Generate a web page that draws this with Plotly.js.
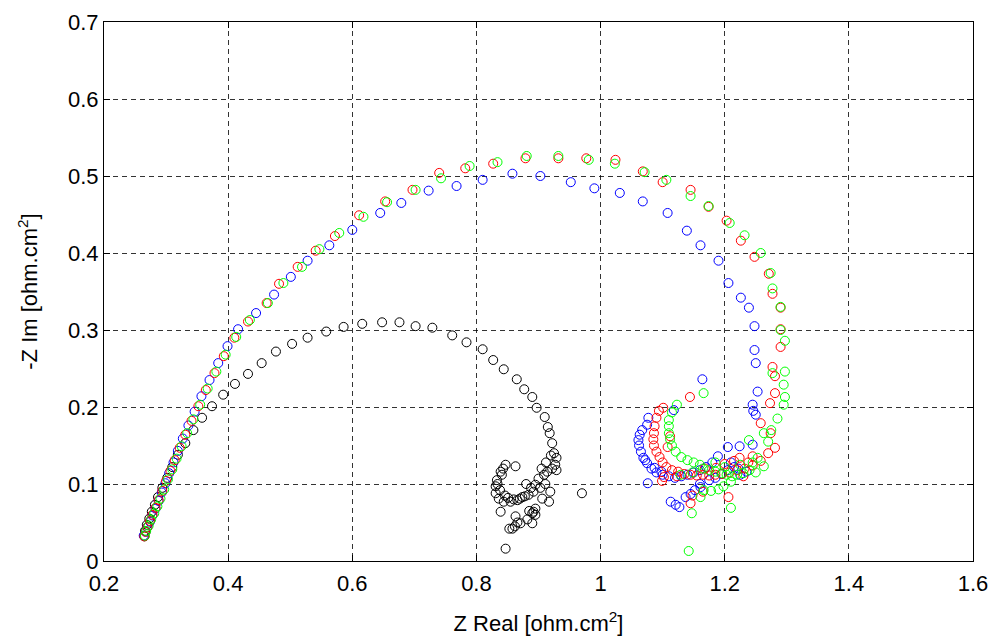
<!DOCTYPE html>
<html>
<head>
<meta charset="utf-8">
<script src="https://cdn.plot.ly/plotly-3.0.1.min.js"></script>
<style>html,body{margin:0;padding:0;background:#fff;}#chart{width:993px;height:644px;}</style>
</head>
<body>
<div id="chart"></div>
<script>
const xTickVals = [0.2, 0.4, 0.6, 0.8, 1.0, 1.2, 1.4, 1.6];
const xTickText = ["0.2", "0.4", "0.6", "0.8", "1", "1.2", "1.4", "1.6"];
const yTickVals = [0, 0.1, 0.2, 0.3, 0.4, 0.5, 0.6, 0.7];
const yTickText = ["0", "0.1", "0.2", "0.3", "0.4", "0.5", "0.6", "0.7"];

const blackX = [0.265,0.266,0.269,0.273,0.277,0.282,0.287,0.294,0.302,0.310,0.319,0.331,0.344,0.358,0.374,0.392,0.411,0.432,
  0.454,0.477,0.503,0.528,0.558,0.586,0.616,0.648,0.676,0.702,0.729,0.761,0.784,0.810,0.827,0.844,0.865,0.877,0.890,0.897,0.910,0.915,0.918,0.922,0.925,0.929,0.927,0.929,
  0.922,0.914,0.909,0.900,0.895,0.892,0.884,0.874,0.866,0.855,0.844,0.836,0.831,0.831,0.833,0.841,0.839,
  0.834,0.838,0.846,0.851,0.860,0.870,0.878,0.843,0.847,0.880,0.888,0.903,0.911,0.905,0.912,0.920,
  0.839,0.863,0.858,0.871,0.882,0.890,0.892,0.895,0.906,0.917,0.919,0.847,0.970,0.863,
  0.895,0.890,0.885,0.862,0.866,0.853];
const blackY = [0.032,0.039,0.047,0.055,0.064,0.073,0.083,0.095,0.108,0.122,0.138,0.153,0.170,0.186,0.201,0.216,0.230,0.243,
  0.257,0.272,0.282,0.290,0.298,0.304,0.308,0.310,0.310,0.305,0.303,0.293,0.284,0.275,0.261,0.249,0.236,0.223,0.213,0.199,0.187,0.174,0.166,0.153,0.140,0.134,0.125,0.118,
  0.120,0.116,0.112,0.107,0.099,0.090,0.086,0.083,0.079,0.077,0.077,0.081,0.088,0.097,0.105,0.112,0.116,
  0.100,0.092,0.085,0.082,0.080,0.081,0.084,0.120,0.125,0.100,0.095,0.095,0.100,0.120,0.128,0.137,
  0.064,0.058,0.042,0.049,0.054,0.049,0.064,0.068,0.081,0.077,0.090,0.016,0.088,0.123,
  0.060,0.062,0.065,0.045,0.050,0.042];

const blueX = [0.264,0.267,0.270,0.274,0.278,0.283,0.288,0.293,0.299,0.305,0.312,0.319,0.327,0.336,0.346,0.357,0.370,0.384,0.399,0.416,0.445,
  0.474,0.501,0.528,0.563,0.600,0.645,0.679,0.723,0.768,0.810,0.858,0.903,0.952,0.990,1.031,1.068,1.108,1.139,1.161,1.190,1.206,1.226,1.239,1.248,1.248,1.250,1.253,1.245,1.246,1.250,
  1.245,1.224,1.205,1.189,1.180,1.170,1.160,1.150,1.140,1.130,1.120,1.110,1.100,1.090,1.082,1.075,1.069,1.065,1.062,1.061,1.063,1.067,1.075,1.077,1.118,1.164,
  1.076,1.113,1.121,1.127,1.137,1.145,1.152,1.161,1.185,1.195,1.205,1.215,1.225,1.235,1.175,1.160,1.098,1.087,1.072,1.210,1.222];
const blueY = [0.033,0.038,0.044,0.051,0.059,0.068,0.078,0.089,0.101,0.114,0.128,0.143,0.159,0.176,0.194,0.214,0.235,0.257,0.279,0.301,0.322,
  0.346,0.369,0.390,0.410,0.430,0.452,0.465,0.481,0.487,0.495,0.503,0.500,0.492,0.484,0.478,0.467,0.452,0.429,0.410,0.390,0.361,0.342,0.329,0.305,0.274,0.257,0.220,0.203,0.195,0.190,
  0.151,0.149,0.148,0.136,0.128,0.122,0.118,0.115,0.112,0.110,0.108,0.110,0.112,0.115,0.120,0.127,0.134,0.142,0.150,0.157,0.164,0.170,0.177,0.186,0.196,0.236,
  0.101,0.077,0.073,0.070,0.083,0.087,0.092,0.096,0.108,0.113,0.118,0.122,0.112,0.116,0.105,0.100,0.116,0.121,0.131,0.128,0.120];

const redX = [0.265,0.267,0.270,0.274,0.278,0.283,0.288,0.294,0.300,0.307,0.314,0.322,0.331,0.341,0.352,0.364,0.378,0.393,0.410,0.432,0.462,
  0.482,0.512,0.541,0.572,0.611,0.653,0.697,0.740,0.782,0.827,0.879,0.932,0.977,1.024,1.068,1.100,1.145,1.174,1.203,1.226,1.248,1.271,1.277,1.290,1.290,1.290,1.277,1.281,1.281,1.273,1.258,1.274,1.281,
  1.270,1.258,1.245,1.232,1.220,1.208,1.196,1.185,1.175,1.165,1.155,1.145,1.135,1.125,1.115,1.106,1.100,1.095,1.090,1.086,1.085,1.086,1.087,1.090,1.094,1.101,1.144,
  1.102,1.099,1.123,1.168,1.186,1.200,1.215,1.224,1.238,1.245,1.230,1.145,1.148,1.206,1.165,1.112,1.108];
const redY = [0.032,0.038,0.044,0.052,0.060,0.069,0.079,0.091,0.104,0.117,0.131,0.147,0.164,0.182,0.201,0.222,0.244,0.266,0.290,0.311,0.335,
  0.360,0.382,0.403,0.422,0.449,0.467,0.482,0.504,0.510,0.516,0.523,0.523,0.523,0.521,0.506,0.492,0.482,0.460,0.442,0.416,0.395,0.373,0.347,0.329,0.301,0.278,0.252,0.240,0.218,0.205,0.179,0.166,0.147,
  0.140,0.130,0.124,0.120,0.118,0.115,0.113,0.112,0.111,0.112,0.111,0.112,0.113,0.116,0.118,0.122,0.128,0.135,0.142,0.150,0.158,0.166,0.175,0.186,0.195,0.199,0.213,
  0.109,0.104,0.110,0.120,0.121,0.126,0.130,0.134,0.128,0.136,0.110,0.075,0.085,0.083,0.090,0.162,0.148];

const greenX = [0.266,0.268,0.272,0.276,0.281,0.286,0.291,0.297,0.303,0.310,0.317,0.325,0.334,0.344,0.355,0.367,0.381,0.396,0.413,0.435,0.464,
  0.489,0.519,0.547,0.579,0.618,0.656,0.702,0.743,0.789,0.834,0.881,0.932,0.981,1.023,1.071,1.106,1.145,1.174,1.208,1.232,1.258,1.274,1.277,1.290,1.290,1.297,1.277,1.297,1.295,1.297,1.295,
  1.285,1.275,1.270,1.263,1.239,1.253,1.263,1.250,1.240,1.230,1.220,1.212,1.203,1.195,1.185,1.175,1.165,1.210,1.198,1.190,1.178,1.166,1.161,
  1.150,1.140,1.130,1.121,1.115,1.112,1.110,1.110,1.110,1.115,1.123,1.166,1.129,1.148,1.160,1.185,1.200,1.225,1.245,1.210,1.147,1.142];
const greenY = [0.033,0.039,0.046,0.054,0.062,0.071,0.081,0.093,0.106,0.119,0.133,0.149,0.166,0.184,0.203,0.224,0.246,0.268,0.291,0.313,0.335,
  0.361,0.382,0.405,0.426,0.447,0.466,0.482,0.497,0.513,0.518,0.526,0.526,0.521,0.516,0.505,0.495,0.474,0.461,0.439,0.423,0.400,0.374,0.354,0.330,0.300,0.286,0.244,0.246,0.229,0.213,0.203,
  0.185,0.170,0.155,0.166,0.157,0.134,0.123,0.115,0.118,0.114,0.112,0.110,0.112,0.114,0.116,0.118,0.120,0.103,0.097,0.093,0.091,0.092,0.083,
  0.128,0.131,0.135,0.142,0.150,0.158,0.166,0.175,0.183,0.193,0.203,0.218,0.112,0.115,0.125,0.128,0.122,0.125,0.128,0.069,0.062,0.013];

function series(x, y, color) {
  return {
    x: x, y: y, type: 'scatter', mode: 'markers', hoverinfo: 'skip',
    marker: {symbol: 'circle-open', size: 9, color: color, line: {width: 1, color: color}}
  };
}

const data = [
  series(blackX, blackY, '#000000'),
  series(blueX, blueY, '#0000ff'),
  series(redX, redY, '#ff0000'),
  series(greenX, greenY, '#00ff00')
];

const fontFam = 'Liberation Sans, Arial, sans-serif';
const axisCommon = {
  showline: true, linecolor: '#000', linewidth: 1, mirror: 'ticks',
  ticks: 'inside', ticklen: 6, tickcolor: '#000', tickwidth: 1,
  showgrid: true, gridcolor: 'rgba(0,0,0,0.8)', gridwidth: 1, griddash: '5px,4px',
  zeroline: false, tickfont: {family: fontFam, size: 22, color: '#000'}
};

const layout = {
  width: 993, height: 644,
  margin: {l: 104, r: 20, t: 22, b: 83},
  paper_bgcolor: '#fff', plot_bgcolor: '#fff',
  showlegend: false,
  xaxis: Object.assign({}, axisCommon, {
    range: [0.2, 1.6], tickmode: 'array', tickvals: xTickVals, ticktext: xTickText,
    ticklabelstandoff: 3,
    title: {text: 'Z Real [ohm.cm<sup>2</sup>]', font: {family: fontFam, size: 22, color: '#000'}, standoff: 20}
  }),
  yaxis: Object.assign({}, axisCommon, {
    range: [0, 0.7], tickmode: 'array', tickvals: yTickVals, ticktext: yTickText,
    title: {text: '-Z Im [ohm.cm<sup>2</sup>]', font: {family: fontFam, size: 22, color: '#000'}, standoff: 24}
  })
};

Plotly.newPlot('chart', data, layout, {staticPlot: true, displayModeBar: false});
</script>
</body>
</html>
